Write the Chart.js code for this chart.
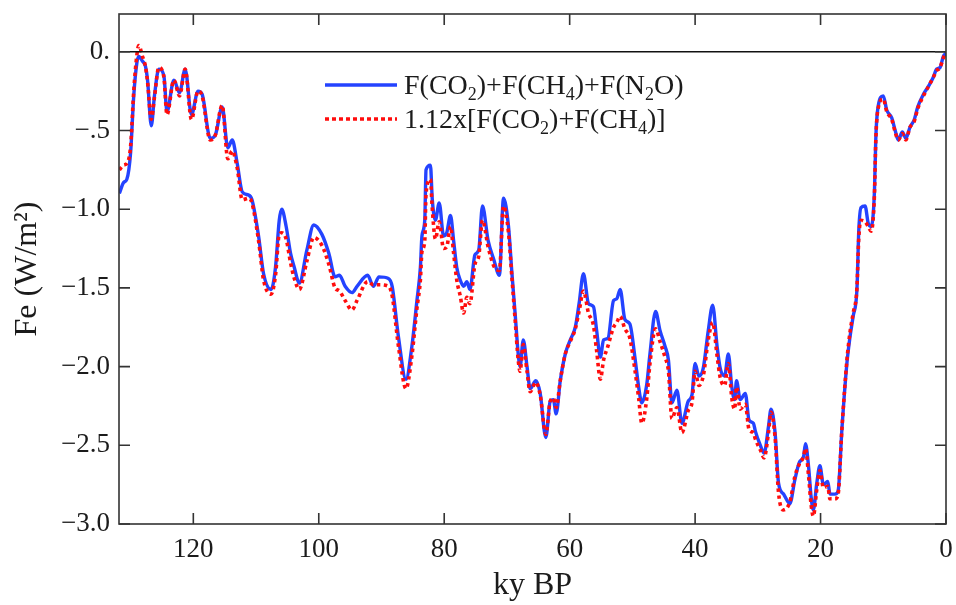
<!DOCTYPE html>
<html>
<head>
<meta charset="utf-8">
<script src="https://cdn.jsdelivr.net/npm/chart.js@4.4.1/dist/chart.umd.min.js"></script>
<style>
  html, body { margin: 0; padding: 0; background: #ffffff; }
  #wrap { width: 956px; height: 605px; }
</style>
</head>
<body>
<div id="wrap"><canvas id="c" width="956" height="605"></canvas></div>
<script>
// ---- data ----
const kyBP = [
  131.8, 131.1, 130.6, 130.0, 129.5, 129.0, 128.7, 128.1, 127.65, 127.3,
  126.7, 126.2, 125.5, 124.7, 124.2, 123.1, 122.2, 121.3, 120.3, 119.25,
  118.6, 117.3, 116.5, 115.4, 114.5, 113.8, 113.0, 112.2, 111.2, 110.65,
  109.6, 108.8, 107.6, 106.9, 106.3, 105.9, 105.2, 104.5, 103.9, 103.1,
  101.9, 100.8, 99.5, 98.4, 97.4, 96.7, 95.8, 94.7, 93.9, 92.2,
  91.3, 90.4, 88.9, 88.3, 87.3, 86.1, 85.15, 84.35, 83.8, 83.55,
  83.1, 82.9, 82.2, 81.9, 81.4, 80.8, 80.1, 79.6, 79.0, 78.5,
  78.0, 77.45, 76.9, 76.4, 75.9, 75.1, 74.5, 73.9, 73.0, 72.1,
  71.2, 70.55, 69.75, 69.2, 68.7, 68.2, 67.9, 67.4, 66.8, 66.3,
  65.4, 64.7, 63.8, 63.1, 62.6, 62.15, 61.5, 60.7, 59.9, 59.1,
  58.5, 57.8, 57.0, 56.2, 55.7, 55.1, 54.6, 53.9, 53.0, 52.5,
  51.95, 51.2, 50.4, 49.6, 49.0, 48.5, 47.7, 47.2, 46.3, 45.6,
  44.8, 44.25, 43.7, 42.9, 42.1, 41.1, 40.5, 40.0, 39.4, 38.7,
  37.9, 37.2, 36.5, 36.0, 35.3, 34.7, 34.15, 33.7, 33.4, 32.8,
  32.0, 31.4, 30.7, 30.4, 29.6, 29.0, 28.3, 27.9, 27.25, 26.7,
  25.9, 24.9, 24.1, 23.4, 22.7, 22.4, 21.9, 21.5, 21.15, 20.6,
  20.1, 19.55, 18.85, 18.5, 17.7, 17.2, 16.6, 15.8, 15.3, 14.8,
  14.2, 13.9, 13.55, 12.9, 12.4, 11.95, 11.4, 11.2, 10.9, 10.0,
  9.45, 8.65, 8.1, 7.6, 6.96, 6.4, 5.75, 5.05, 4.5, 3.6,
  2.8, 2.0, 1.5, 0.95, 0.43, 0.0
];

// F(CO2)+F(CH4)+F(N2O)
const feGHG3 = [
  -0.90, -0.83, -0.81, -0.64, -0.28, -0.07, -0.03, -0.06, -0.09, -0.18,
  -0.47, -0.28, -0.11, -0.15, -0.38, -0.18, -0.26, -0.11, -0.40, -0.25,
  -0.27, -0.55, -0.53, -0.35, -0.61, -0.56, -0.71, -0.89, -0.91, -0.94,
  -1.17, -1.41, -1.51, -1.37, -1.07, -1.00, -1.11, -1.28, -1.37, -1.47,
  -1.26, -1.10, -1.16, -1.28, -1.43, -1.42, -1.49, -1.53, -1.49, -1.42,
  -1.49, -1.43, -1.44, -1.49, -1.81, -2.08, -1.87, -1.58, -1.37, -1.17,
  -1.07, -0.75, -0.72, -0.94, -1.07, -0.96, -1.17, -1.15, -1.04, -1.20,
  -1.37, -1.45, -1.49, -1.46, -1.51, -1.29, -1.26, -0.98, -1.20, -1.32,
  -1.42, -0.93, -1.11, -1.41, -1.66, -1.92, -2.00, -1.83, -2.00, -2.14,
  -2.09, -2.17, -2.45, -2.22, -2.21, -2.30, -2.09, -1.92, -1.83, -1.75,
  -1.60, -1.41, -1.60, -1.62, -1.77, -1.94, -1.83, -1.82, -1.58, -1.57,
  -1.51, -1.70, -1.73, -1.94, -2.13, -2.23, -2.11, -1.92, -1.65, -1.77,
  -1.87, -1.96, -2.23, -2.15, -2.36, -2.22, -2.18, -1.98, -2.06, -2.01,
  -1.77, -1.61, -1.87, -2.01, -2.06, -1.92, -2.13, -2.21, -2.09, -2.21,
  -2.17, -2.34, -2.36, -2.41, -2.50, -2.55, -2.38, -2.27, -2.42, -2.74,
  -2.81, -2.87, -2.72, -2.61, -2.57, -2.49, -2.64, -2.83, -2.91, -2.74,
  -2.63, -2.75, -2.73, -2.81, -2.81, -2.79, -2.40, -1.98, -1.81, -1.68,
  -1.51, -1.13, -0.99, -0.98, -1.09, -1.11, -0.88, -0.56, -0.37, -0.28,
  -0.37, -0.42, -0.50, -0.56, -0.51, -0.55, -0.48, -0.43, -0.35, -0.27,
  -0.22, -0.16, -0.11, -0.10, -0.03, -0.01
];

// 1.12x[F(CO2)+F(CH4)]
const feGHG2scaled = [
  -0.75, -0.72, -0.71, -0.60, -0.25, -0.02, 0.04, -0.03, -0.09, -0.19,
  -0.43, -0.29, -0.10, -0.16, -0.40, -0.18, -0.28, -0.11, -0.43, -0.25,
  -0.28, -0.56, -0.53, -0.34, -0.68, -0.63, -0.74, -0.94, -0.93, -0.96,
  -1.20, -1.45, -1.54, -1.42, -1.16, -1.15, -1.19, -1.34, -1.44, -1.51,
  -1.33, -1.18, -1.23, -1.35, -1.50, -1.52, -1.58, -1.64, -1.58, -1.46,
  -1.48, -1.48, -1.49, -1.55, -1.87, -2.14, -1.93, -1.63, -1.45, -1.27,
  -1.20, -0.90, -0.81, -1.00, -1.19, -1.08, -1.25, -1.24, -1.11, -1.28,
  -1.45, -1.55, -1.66, -1.56, -1.60, -1.35, -1.30, -1.07, -1.24, -1.36,
  -1.39, -0.98, -1.15, -1.44, -1.70, -1.96, -2.03, -1.86, -2.03, -2.16,
  -2.10, -2.18, -2.43, -2.22, -2.20, -2.26, -2.09, -1.92, -1.84, -1.76,
  -1.65, -1.52, -1.66, -1.74, -1.90, -2.08, -1.96, -1.87, -1.75, -1.72,
  -1.68, -1.76, -1.82, -2.02, -2.20, -2.36, -2.20, -1.98, -1.76, -1.84,
  -1.94, -2.03, -2.33, -2.26, -2.42, -2.28, -2.23, -2.03, -2.12, -2.06,
  -1.83, -1.72, -1.93, -2.07, -2.12, -1.98, -2.20, -2.27, -2.13, -2.27,
  -2.24, -2.40, -2.42, -2.46, -2.53, -2.58, -2.42, -2.29, -2.45, -2.80,
  -2.91, -2.86, -2.70, -2.62, -2.57, -2.52, -2.70, -2.88, -2.95, -2.78,
  -2.66, -2.77, -2.76, -2.84, -2.84, -2.81, -2.40, -1.96, -1.78, -1.66,
  -1.50, -1.18, -1.07, -1.08, -1.11, -1.14, -0.90, -0.57, -0.38, -0.30,
  -0.38, -0.43, -0.51, -0.56, -0.52, -0.56, -0.48, -0.44, -0.36, -0.28,
  -0.22, -0.16, -0.12, -0.10, -0.04, 0.00
];

const yTickValues = [0, -0.5, -1.0, -1.5, -2.0, -2.5, -3.0];
const yTickLabels = ['0.', '\u2212.5', '\u22121.0', '\u22121.5', '\u22122.0', '\u22122.5', '\u22123.0'];
const xTickValues = [120, 100, 80, 60, 40, 20, 0];
const xTickLabels = ['120', '100', '80', '60', '40', '20', '0'];

// legend label parts: [text, isSubscript]
const legendBlue = [['F(CO', 0], ['2', 1], [')+F(CH', 0], ['4', 1], [')+F(N', 0], ['2', 1], ['O)', 0]];
const legendRed  = [['1.12x[F(CO', 0], ['2', 1], [')+F(CH', 0], ['4', 1], [')]', 0]];

// ---- chart ----
const SERIF = "'Liberation Serif', 'Times New Roman', serif";
const BLUE = '#2443ff';
const RED = '#ff0d0d';

const framePlugin = {
  id: 'frame',
  afterDraw(chart) {
    const {ctx, chartArea: a, scales: {x, y}} = chart;
    ctx.save();
    // zero line
    const y0 = y.getPixelForValue(0);
    ctx.strokeStyle = '#111';
    ctx.lineWidth = 1.4;
    ctx.beginPath(); ctx.moveTo(a.left, y0); ctx.lineTo(a.right, y0); ctx.stroke();
    // frame
    ctx.strokeStyle = '#333';
    ctx.lineWidth = 1.6;
    ctx.strokeRect(a.left, a.top, a.right - a.left, a.bottom - a.top);
    // inward ticks, mirrored on all sides
    const L = 11;
    ctx.beginPath();
    x.ticks.forEach(t => {
      const px = x.getPixelForValue(t.value);
      ctx.moveTo(px, a.bottom); ctx.lineTo(px, a.bottom - L);
      ctx.moveTo(px, a.top); ctx.lineTo(px, a.top + L);
    });
    y.ticks.forEach(t => {
      const py = y.getPixelForValue(t.value);
      ctx.moveTo(a.left, py); ctx.lineTo(a.left + L, py);
      ctx.moveTo(a.right, py); ctx.lineTo(a.right - L, py);
    });
    ctx.stroke();

    // legend
    const rows = [
      {parts: legendBlue, color: BLUE, dash: [], lineY: a.top + 71, base: a.top + 80},
      {parts: legendRed, color: RED, dash: [4, 3], lineY: a.top + 105, base: a.top + 114}
    ];
    const x0 = a.left + 206, x1 = a.left + 278, tx = a.left + 285;
    rows.forEach(r => {
      ctx.strokeStyle = r.color;
      ctx.lineWidth = 3.6;
      ctx.setLineDash(r.dash);
      ctx.lineCap = 'butt';
      ctx.beginPath(); ctx.moveTo(x0, r.lineY); ctx.lineTo(x1, r.lineY); ctx.stroke();
      ctx.setLineDash([]);
      ctx.fillStyle = '#1b1b1b';
      ctx.textBaseline = 'alphabetic';
      ctx.textAlign = 'left';
      let cx = tx;
      r.parts.forEach(([s, sub]) => {
        ctx.font = sub ? '18px ' + SERIF : '28px ' + SERIF;
        ctx.fillText(s, cx, r.base + (sub ? 6 : 0));
        cx += ctx.measureText(s).width;
      });
    });
    ctx.restore();
  }
};

new Chart(document.getElementById('c'), {
  type: 'line',
  data: {
    datasets: [
      {
        label: 'F(CO\u2082)+F(CH\u2084)+F(N\u2082O)',
        data: kyBP.map((k, i) => ({x: k, y: feGHG3[i]})),
        borderColor: BLUE,
        borderWidth: 3.4,
        pointRadius: 0,
        cubicInterpolationMode: 'monotone',
        order: 2
      },
      {
        label: '1.12x[F(CO\u2082)+F(CH\u2084)]',
        data: kyBP.map((k, i) => ({x: k, y: feGHG2scaled[i]})),
        borderColor: RED,
        borderWidth: 3.6,
        borderDash: [3.5, 3.5],
        borderCapStyle: 'butt',
        pointRadius: 0,
        cubicInterpolationMode: 'monotone',
        order: 1
      }
    ]
  },
  options: {
    responsive: false,
    animation: false,
    devicePixelRatio: 1,
    layout: {autoPadding: false, padding: {left: 0, right: 10, top: 14, bottom: 0}},
    plugins: {legend: {display: false}, tooltip: {enabled: false}},
    scales: {
      x: {
        type: 'linear',
        reverse: true,
        min: 0,
        max: 131.85,
        grid: {display: false, drawTicks: false},
        border: {display: false},
        afterBuildTicks(scale) { scale.ticks = xTickValues.map(v => ({value: v})); },
        ticks: {
          padding: 10,
          maxRotation: 0,
          font: {family: SERIF, size: 27},
          color: '#1b1b1b',
          callback: (v) => xTickLabels[xTickValues.indexOf(v)]
        },
        title: {display: true, text: 'ky BP', font: {family: SERIF, size: 32}, color: '#1b1b1b', padding: {top: 0, bottom: 0}},
        afterFit(scale) { scale.height = 81; scale.paddingLeft = 0; scale.paddingRight = 0; }
      },
      y: {
        type: 'linear',
        min: -3.0,
        max: 0.24,
        grid: {display: false, drawTicks: false},
        border: {display: false},
        afterBuildTicks(scale) { scale.ticks = yTickValues.map(v => ({value: v})); },
        ticks: {
          padding: 9,
          font: {family: SERIF, size: 27},
          color: '#1b1b1b',
          callback: (v) => yTickLabels[yTickValues.indexOf(v)]
        },
        title: {display: true, text: 'Fe (W/m\u00B2)', font: {family: SERIF, size: 32}, color: '#1b1b1b', padding: {top: 8, bottom: 0}},
        afterFit(scale) { scale.width = 119; scale.paddingTop = 0; scale.paddingBottom = 0; }
      }
    }
  },
  plugins: [framePlugin]
});
</script>
</body>
</html>
